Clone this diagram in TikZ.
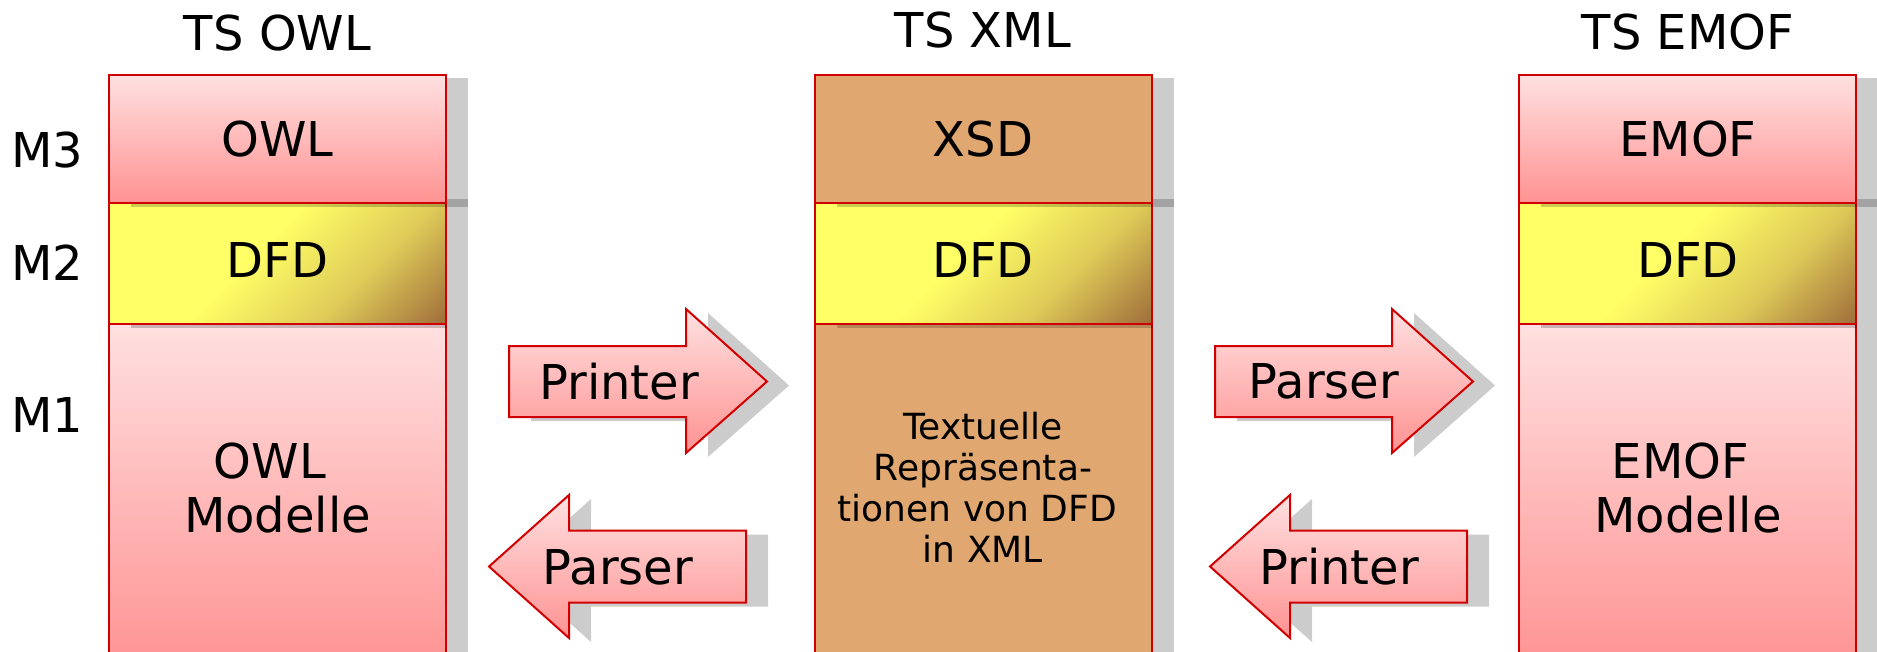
\documentclass[tikz,border=0pt]{standalone}
\usepackage{fontspec}
\setmainfont{DejaVu Sans}
\definecolor{bred}{RGB}{208,0,0}
\definecolor{pinkT}{RGB}{255,224,224}
\definecolor{pinkB}{RGB}{255,146,146}
\definecolor{colTan}{RGB}{224,167,112}
\definecolor{dfdY}{RGB}{255,255,102}
\definecolor{dfdG}{RGB}{222,202,88}
\definecolor{dfdB}{RGB}{158,108,58}
\pgfdeclarehorizontalshading{dfdsh}{100bp}{color(0bp)=(dfdY); color(25bp)=(dfdY); color(46.5bp)=(dfdY); color(61bp)=(dfdG); color(75bp)=(dfdB); color(100bp)=(dfdB)}
\tikzset{
  big/.style={font=\fontsize{48}{54}\selectfont, inner sep=0pt, anchor=base},
  small/.style={font=\fontsize{36}{41.3}\selectfont, inner sep=0pt, anchor=base},
  bord/.style={draw=bred, line width=2pt},
  shad/.style={fill=black, fill opacity=0.2},
  pinkfill/.style={top color=pinkT, bottom color=pinkB},
  tanfill/.style={fill=colTan},
}
% column of three layers: #1 = left x, #2 = fill style of M3 and M1
\newcommand\tscolumn[2]{%
  % M1 layer
  \fill[shad] (#1+22,328) rectangle (#1+359,680);
  \path[#2,bord] (#1,324) rectangle (#1+337,670);
  % M2 layer (DFD)
  \fill[shad] (#1+22,199) rectangle (#1+359,328);
  \begin{scope}
    \clip (#1,203) rectangle (#1+337,324);
    \begin{scope}[transform canvas={rotate around={-45:(#1,203)}}]
      \shade[shading=dfdsh] (#1,-300) rectangle (#1+324,500);
    \end{scope}
  \end{scope}
  \draw[bord] (#1,203) rectangle (#1+337,324);
  % M3 layer
  \fill[shad] (#1+22,78) rectangle (#1+359,207);
  \path[#2,bord] (#1,75) rectangle (#1+337,203);
}
% block arrow pointing right: #1 = left x, #2 = middle y
\newcommand\rarrow[2]{%
  \fill[shad,shift={(22,4)}] (#1,#2-35.5) -- (#1+177,#2-35.5) -- (#1+177,#2-72.5) -- (#1+258,#2) -- (#1+177,#2+71.5) -- (#1+177,#2+35.5) -- (#1,#2+35.5) -- cycle;
  \path[pinkfill,bord] (#1,#2-35.5) -- (#1+177,#2-35.5) -- (#1+177,#2-72.5) -- (#1+258,#2) -- (#1+177,#2+71.5) -- (#1+177,#2+35.5) -- (#1,#2+35.5) -- cycle;
}
% block arrow pointing left: #1 = tip x, #2 = middle y
\newcommand\larrow[2]{%
  \fill[shad,shift={(22,4)}] (#1,#2) -- (#1+80,#2-71.5) -- (#1+80,#2-36) -- (#1+257,#2-36) -- (#1+257,#2+36) -- (#1+80,#2+36) -- (#1+80,#2+71.5) -- cycle;
  \path[pinkfill,bord] (#1,#2) -- (#1+80,#2-71.5) -- (#1+80,#2-36) -- (#1+257,#2-36) -- (#1+257,#2+36) -- (#1+80,#2+36) -- (#1+80,#2+71.5) -- cycle;
}
\begin{document}
\begin{tikzpicture}[x=1pt,y=-1pt]
\useasboundingbox (0,0) rectangle (1877,651);
\fill[white] (0,0) rectangle (1877,651);

\tscolumn{109}{pinkfill}
\tscolumn{814.5}{tanfill}
\tscolumn{1519}{pinkfill}

\rarrow{509}{381.5}
\larrow{489}{566.5}
\rarrow{1215}{381.5}
\larrow{1210}{566.5}

% titles
\node[big] (tsowl) at (277.5,50) {TS OWL};
\node[big] (tsxml) at (983,47) {TS XML};
\node[big] (tsemof) at (1688,49) {TS EMOF};
% level labels
\node[big] (m3) at (47,167) {M3};
\node[big] (m2) at (47,280) {M2};
\node[big] (m1) at (47,432) {M1};
% column contents
\node[big] (owl) at (277.5,156) {OWL};
\node[big] (dfdowl) at (277.5,277) {DFD};
\node[big] (owlmod) at (277.5,478) {\begin{tabular}[t]{@{}c@{}}OWL\kern0.318em\\Modelle\end{tabular}};
\node[big] (xsd) at (983,156) {XSD};
\node[big] (dfdxml) at (983,277) {DFD};
\node[small] (xmltext) at (983,439) {\begin{tabular}[t]{@{}c@{}}Textuelle\\Repräsenta-\\tionen von DFD\kern0.318em\\in XML\end{tabular}};
\node[big] (emof) at (1688,156) {EMOF};
\node[big] (dfdemof) at (1688,277) {DFD};
\node[big] (emofmod) at (1688,478) {\begin{tabular}[t]{@{}c@{}}EMOF\kern0.318em\\Modelle\end{tabular}};
% arrow labels
\node[big] (print1) at (619,399) {Printer};
\node[big] (parse1) at (618,584) {Parser};
\node[big] (parse2) at (1324,398) {Parser};
\node[big] (print2) at (1339,584) {Printer};
\end{tikzpicture}
\end{document}
